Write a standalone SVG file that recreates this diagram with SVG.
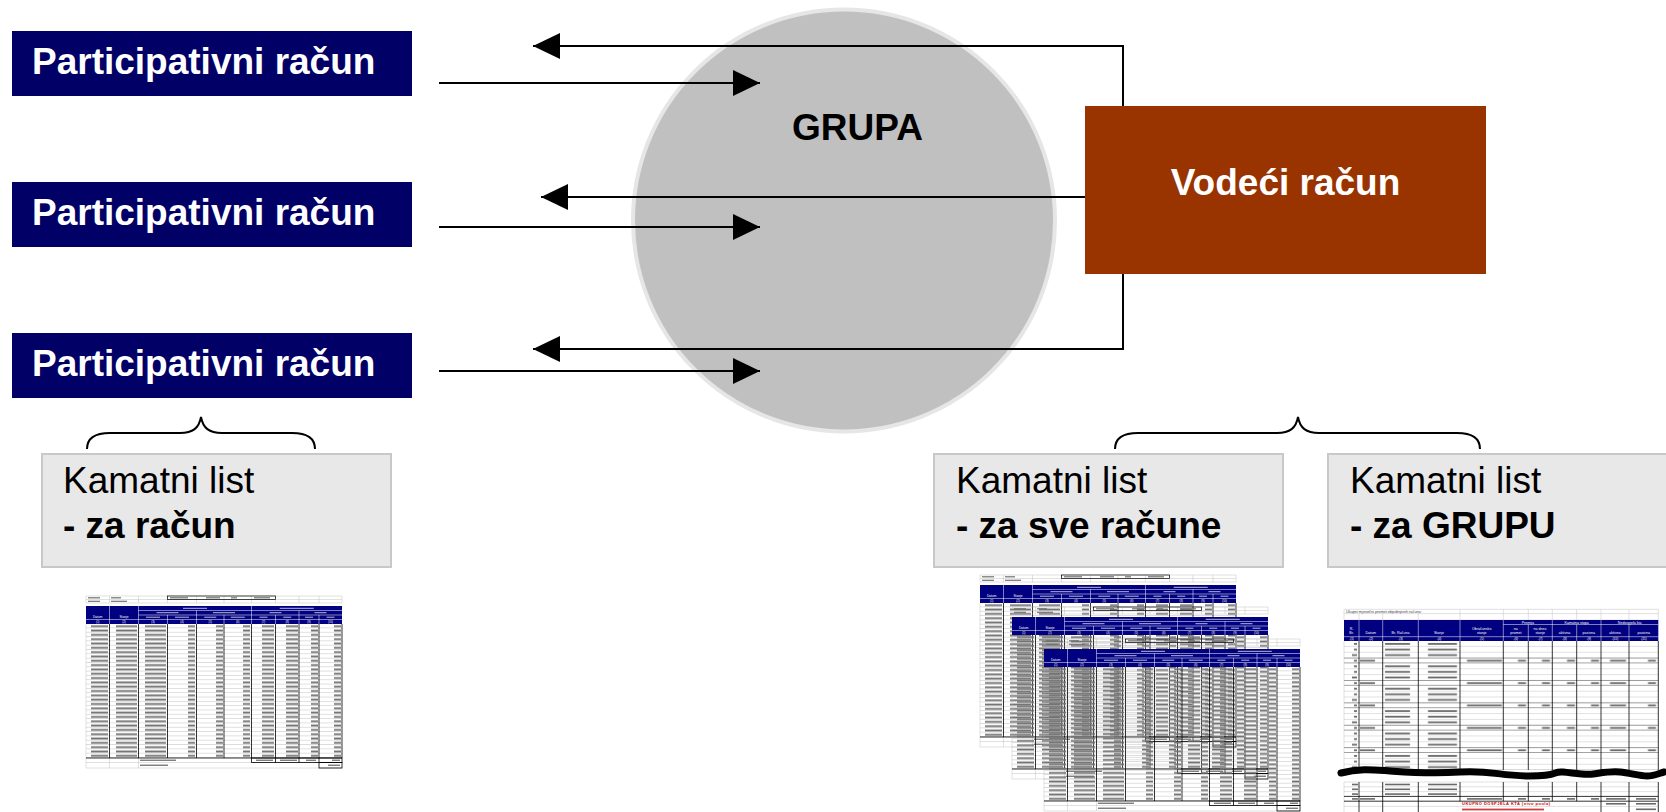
<svg xmlns="http://www.w3.org/2000/svg" xmlns:xlink="http://www.w3.org/1999/xlink" width="1666" height="812" viewBox="0 0 1666 812">
<style>
.pbox{fill:#000066}
.ptxt{font-family:"Liberation Sans",Arial,sans-serif;font-weight:bold;font-size:37px;fill:#fff}
.big{font-family:"Liberation Sans",Arial,sans-serif;font-size:37px;fill:#000}
.b{font-weight:bold}
.kbox{fill:#e8e8e8;stroke:#c8c8c8;stroke-width:2}
.conn{fill:none;stroke:#000;stroke-width:2}
.brace{fill:none;stroke:#000;stroke-width:2}
.hd{font-family:"Liberation Sans",Arial,sans-serif;fill:#fff;text-anchor:middle}
.gl{stroke:#b4b4b4;stroke-width:0.4;fill:none}
.bl{stroke:#000;stroke-width:0.8;fill:none}
.wl{stroke:#fff;stroke-width:0.5;fill:none}
.tb{fill:#727272}
.lb{fill:#b8b8dc}
</style>
<defs>
<marker id="ah" markerUnits="userSpaceOnUse" viewBox="0 0 27 26" refX="27" refY="13" markerWidth="27" markerHeight="26" orient="auto">
<path d="M0,0 L27,13 L0,26 Z" fill="#000"/>
</marker>
<pattern id="p1" patternUnits="userSpaceOnUse" x="0" y="28" width="256" height="4.32">
<rect x="0" y="3.95" width="256" height="0.37" fill="#aaa"/>
<g class="tb">
<rect x="5" y="1.3" width="17" height="1.8"/>
<rect x="30" y="1.3" width="21" height="1.8"/>
<rect x="59" y="1.3" width="21" height="1.8"/>
<rect x="102" y="1.3" width="7" height="1.8"/>
<rect x="130" y="1.3" width="7" height="1.8"/>
<rect x="157" y="1.3" width="7" height="1.8"/>
<rect x="176" y="1.3" width="12" height="1.8"/>
<rect x="200" y="1.3" width="12" height="1.8"/>
<rect x="225" y="1.3" width="7" height="1.8"/>
<rect x="248" y="1.3" width="7" height="1.8"/>
</g>
</pattern>
<pattern id="p3" patternUnits="userSpaceOnUse" x="1344" y="641" width="314.3" height="22.4">
<g fill="#aaa">
<rect x="0" y="5.3" width="314.3" height="0.35"/>
<rect x="0" y="10.9" width="314.3" height="0.35"/>
</g>
<g fill="#333">
<rect x="0" y="16.6" width="314.3" height="0.5"/>
<rect x="0" y="21.95" width="314.3" height="0.45"/>
</g>
<g fill="#6a6a6a">
<rect x="10" y="2" width="3" height="1.8"/><rect x="41" y="2" width="25" height="1.8"/><rect x="84" y="2" width="29" height="1.8"/>
<rect x="10" y="7.6" width="3" height="1.8"/><rect x="41" y="7.6" width="25" height="1.8"/><rect x="84" y="7.6" width="29" height="1.8"/>
<rect x="8" y="13.2" width="5" height="1.8"/><rect x="41" y="13.2" width="25" height="1.8"/><rect x="84" y="13.2" width="29" height="1.8"/>
<rect x="10" y="18.8" width="3" height="1.8"/><rect x="16" y="18.8" width="15" height="1.8"/><rect x="123" y="18.8" width="35" height="1.8"/>
<rect x="174" y="18.8" width="8" height="1.8"/><rect x="198" y="18.8" width="8" height="1.8"/><rect x="223" y="18.8" width="8" height="1.8"/>
<rect x="247" y="18.8" width="8" height="1.8"/><rect x="266" y="18.8" width="16" height="1.8"/><rect x="304" y="18.8" width="8" height="1.8"/>
</g>
</pattern>
<g id="ks">
<path class="gl" d="M0,0H256M0,3.5H256M0,7H256M0,0V7M23.5,0V7M52.5,0V7M81.5,0V7M110.5,0V7M138,0V7M165.5,0V7M189.5,0V7M213,0V7M233,0V7M256,0V7"/>
<rect x="81.5" y="0" width="108" height="3.5" fill="none" stroke="#000" stroke-width="0.7"/>
<g class="tb">
<rect x="2" y="1.2" width="12" height="1.2"/><rect x="25" y="1.2" width="10" height="1.2"/><rect x="84" y="1.2" width="18" height="1.2"/>
<rect x="120" y="1.2" width="14" height="1.2"/><rect x="145" y="1.2" width="6" height="1.2"/><rect x="168" y="1.2" width="16" height="1.2"/>
<rect x="2" y="4.7" width="12" height="1.2"/><rect x="25" y="4.7" width="16" height="1.2"/>
</g>
<rect x="0" y="10" width="256" height="18" fill="#000080"/>
<path class="wl" d="M0,23.5H256M52.5,14.5H256M52.5,19H256M23.5,10V28M52.5,10V28M165.5,10V28M110.5,14.5V28M213,14.5V28M81.5,19V28M138,19V28M189.5,19V28M233,19V28"/>
<g class="lb">
<rect x="97" y="11.8" width="24" height="1"/><rect x="193.75" y="11.8" width="34" height="1"/>
<rect x="70.5" y="16.2" width="22" height="1"/><rect x="127" y="16.2" width="22" height="1"/><rect x="183.5" y="16.2" width="12" height="1"/><rect x="228.5" y="16.2" width="12" height="1"/>
<rect x="60" y="20.7" width="14" height="1"/><rect x="89" y="20.7" width="14" height="1"/><rect x="118.25" y="20.7" width="12" height="1"/><rect x="144.75" y="20.7" width="14" height="1"/>
<rect x="173.5" y="20.7" width="8" height="1"/><rect x="197.25" y="20.7" width="8" height="1"/><rect x="219" y="20.7" width="8" height="1"/><rect x="240.5" y="20.7" width="8" height="1"/>
</g>
<g class="hd" font-size="3.2">
<text x="11.75" y="22">Datum</text><text x="38" y="22">Stanje</text>
</g>
<g class="hd" font-size="2.8">
<text x="11.75" y="27">(1)</text><text x="38" y="27">(2)</text><text x="67" y="27">(3)</text><text x="96" y="27">(4)</text><text x="124.25" y="27">(5)</text>
<text x="151.75" y="27">(6)</text><text x="177.5" y="27">(7)</text><text x="201.25" y="27">(8)</text><text x="223" y="27">(9)</text><text x="244.5" y="27">(10)</text>
</g>
<rect x="0" y="28" width="256" height="134" fill="url(#p1)"/>
<path class="gl" d="M0,28V172M23.5,162V172M52.5,162V172M0,166.5H256M0,172H256"/>
<path class="bl" d="M23.5,28V162M52.5,28V162M81.5,28V162M110.5,28V162M138,28V162M165.5,28V162M189.5,28V162M213,28V162M233,28V162M256,28V162M0,162H256"/>
<rect x="165.5" y="162" width="90.5" height="4.5" class="bl"/>
<path class="bl" d="M189.5,162V166.5M213,162V166.5M233,162V166.5"/>
<rect x="233" y="166.5" width="23" height="5.5" class="bl"/>
<g class="tb">
<rect x="54" y="163.6" width="36" height="1.3"/><rect x="54" y="168.6" width="28" height="1.3"/>
<rect x="170" y="163.6" width="17" height="1.3"/><rect x="194" y="163.6" width="17" height="1.3"/><rect x="220" y="163.6" width="10" height="1.3"/>
<rect x="246" y="163.6" width="8" height="1.3"/><rect x="242" y="168.6" width="12" height="1.3"/>
</g>
</g>
</defs>

<rect width="1666" height="812" fill="#fff"/>

<g id="grupa">
<circle cx="844" cy="220.5" r="211" fill="#c0c0c0" stroke="#e6e6e6" stroke-width="4"/>
<text class="big b" x="792" y="140">GRUPA</text>
</g>

<g id="vodeci">
<rect x="1085" y="106" width="401" height="168" fill="#993300"/>
<text class="ptxt" x="1285.5" y="195" text-anchor="middle">Vodeći račun</text>
</g>

<g id="part1">
<rect class="pbox" x="12" y="31" width="400" height="65"/>
<text class="ptxt" x="32" y="74">Participativni račun</text>
</g>
<g id="part2">
<rect class="pbox" x="12" y="182" width="400" height="65"/>
<text class="ptxt" x="32" y="225">Participativni račun</text>
</g>
<g id="part3">
<rect class="pbox" x="12" y="333" width="400" height="65"/>
<text class="ptxt" x="32" y="376">Participativni račun</text>
</g>

<g id="connectors">
<path class="conn" d="M439,83H760" marker-end="url(#ah)"/>
<path class="conn" d="M439,227H760" marker-end="url(#ah)"/>
<path class="conn" d="M439,371H760" marker-end="url(#ah)"/>
<path class="conn" d="M1123,106V46H533" marker-end="url(#ah)"/>
<path class="conn" d="M1085,197H541" marker-end="url(#ah)"/>
<path class="conn" d="M1123,274V349H533" marker-end="url(#ah)"/>
</g>

<g id="braces">
<path class="brace" d="M87,449C87,438 95,433 110,433L180,433C193,433 199,428 201,417C203,428 209,433 222,433L292,433C307,433 315,438 315,449"/>
<path class="brace" d="M1115,449C1115,438 1123,433 1138,433L1277,433C1290,433 1296,428 1298,417C1300,428 1306,433 1319,433L1457,433C1472,433 1480,438 1480,449"/>
</g>

<g id="kl-racun">
<rect class="kbox" x="42" y="454" width="349" height="113"/>
<text class="big" x="63" y="493">Kamatni list</text>
<text class="big b" x="63" y="538">- za račun</text>
</g>
<g id="kl-sve">
<rect class="kbox" x="934" y="454" width="349" height="113"/>
<text class="big" x="956" y="493">Kamatni list</text>
<text class="big b" x="956" y="538">- za sve račune</text>
</g>
<g id="kl-grupa">
<rect class="kbox" x="1328" y="454" width="349" height="113"/>
<text class="big" x="1350" y="493">Kamatni list</text>
<text class="big b" x="1350" y="538">- za GRUPU</text>
</g>

<g id="sheet-racun">
<use xlink:href="#ks" href="#ks" transform="translate(86,596)"/>
</g>

<g id="sheet-sve">
<use xlink:href="#ks" href="#ks" transform="translate(980,575)"/>
<use xlink:href="#ks" href="#ks" transform="translate(1012,607)"/>
<use xlink:href="#ks" href="#ks" transform="translate(1044,639)"/>
</g>

<g id="sheet-grupa">
<path class="gl" d="M1344,609.3H1658.3M1344,613.6H1658.3M1344,620H1658.3M1344,609.3V620M1460,609.3V620M1503.3,609.3V620M1528.3,609.3V620M1552.3,609.3V620M1576.7,609.3V620M1601,609.3V620M1629,609.3V620M1658.3,609.3V620M1359,613.6V620M1382.7,613.6V620M1418.3,613.6V620"/>
<text x="1346" y="612.9" font-family="Liberation Sans, Arial, sans-serif" font-size="3.8" fill="#444">Ukupni mjesečni promet objedinjenih računa:</text>
<rect x="1344" y="620" width="314.3" height="21" fill="#000080"/>
<path class="wl" d="M1503.3,624.5H1658.3M1344,636.7H1658.3M1359,620V641M1382.7,620V641M1418.3,620V641M1460,620V641M1503.3,620V641M1552.3,620V641M1601,620V641M1528.3,624.5V641M1576.7,624.5V641M1629,624.5V641"/>
<g class="hd" font-size="3.6">
<text x="1527.8" y="623.5">Premija</text>
<text x="1576.7" y="623.5">Kamatna stopa</text>
<text x="1629.7" y="623.5">Nedospjela kta</text>
<text x="1351.5" y="630">R.</text><text x="1351.5" y="634.3">Br.</text>
<text x="1370.8" y="634.3">Datum</text>
<text x="1400.5" y="634.3">Br. Računa</text>
<text x="1439" y="634.3">Stanje</text>
<text x="1481.7" y="630">Obračunsko</text><text x="1481.7" y="634.3">stanje</text>
<text x="1515.8" y="630">na</text><text x="1515.8" y="634.3">promet</text>
<text x="1540.3" y="630">na dnev.</text><text x="1540.3" y="634.3">stanje</text>
<text x="1564.5" y="634.3">aktivna</text><text x="1588.8" y="634.3">pasivna</text>
<text x="1615" y="634.3">aktivna</text><text x="1643.7" y="634.3">pasivna</text>
</g>
<g class="hd" font-size="3" fill="#c8c8f0">
<text x="1351.5" y="640">-(1)</text><text x="1370.8" y="640">-(2)</text><text x="1400.5" y="640">-(3)</text><text x="1439" y="640">-(4)</text>
<text x="1481.7" y="640">-(5)</text><text x="1515.8" y="640">-(6)</text><text x="1540.3" y="640">-(7)</text><text x="1564.5" y="640">-(8)</text>
<text x="1588.8" y="640">-(9)</text><text x="1615" y="640">-(10)</text><text x="1643.7" y="640">-(11)</text>
</g>
<rect x="1344" y="641" width="314.3" height="128.8" fill="url(#p3)"/>
<path class="gl" d="M1344,641V770M1344,782V812"/>
<path class="bl" d="M1359,641V770M1382.7,641V770M1418.3,641V770M1460,641V770M1503.3,641V770M1528.3,641V770M1552.3,641V770M1576.7,641V770M1601,641V770M1629,641V770M1658.3,641V770"/>
<path d="M1341,773C1360,768 1375,770 1390,771S1430,774 1460,772S1500,776 1530,776S1552,771 1563,772S1585,775 1593,774S1610,771 1620,772S1640,776 1647,776S1660,773 1664,772" fill="none" stroke="#000" stroke-width="7" stroke-linecap="round"/>
<path class="gl" d="M1344,782H1658.3M1344,786.8H1658.3M1344,791.6H1658.3M1344,806.4H1658.3"/>
<path class="bl" d="M1344,796.4H1658.3M1344,801.2H1658.3M1359,782V812M1382.7,782V812M1418.3,782V812M1460,782V801.2M1503.3,782V801.2M1528.3,782V801.2M1552.3,782V801.2M1576.7,782V801.2M1601,782V812M1629,782V812M1658.3,782V812"/>
<g fill="#6a6a6a">
<rect x="1352" y="783.7" width="6" height="1.6"/><rect x="1385" y="783.7" width="25" height="1.6"/><rect x="1428" y="783.7" width="29" height="1.6"/>
<rect x="1352" y="788.5" width="6" height="1.6"/><rect x="1385" y="788.5" width="25" height="1.6"/><rect x="1428" y="788.5" width="29" height="1.6"/>
<rect x="1352" y="793.3" width="6" height="1.6"/><rect x="1385" y="793.3" width="25" height="1.6"/><rect x="1428" y="793.3" width="29" height="1.6"/>
<rect x="1352" y="798.1" width="6" height="1.6"/><rect x="1360" y="798.1" width="15" height="1.6"/><rect x="1467" y="798.1" width="35" height="1.6"/>
<rect x="1518" y="798.1" width="8" height="1.6"/><rect x="1542" y="798.1" width="8" height="1.6"/><rect x="1567" y="798.1" width="8" height="1.6"/>
<rect x="1591" y="798.1" width="8" height="1.6"/><rect x="1606" y="798.1" width="20" height="1.6"/><rect x="1636" y="798.1" width="20" height="1.6"/>
<rect x="1606" y="803" width="20" height="1.6"/><rect x="1636" y="803" width="20" height="1.6"/><rect x="1636" y="808.5" width="20" height="1.6"/>
</g>
<text x="1462" y="805.3" font-family="Liberation Sans, Arial, sans-serif" font-weight="bold" font-size="4" letter-spacing="0.5" fill="#cc0000">UKUPNO DOSPJELA KTA (nivo poola)</text>
<rect x="1462" y="808.6" width="82" height="1.8" fill="#d04040"/>
</g>
</svg>
